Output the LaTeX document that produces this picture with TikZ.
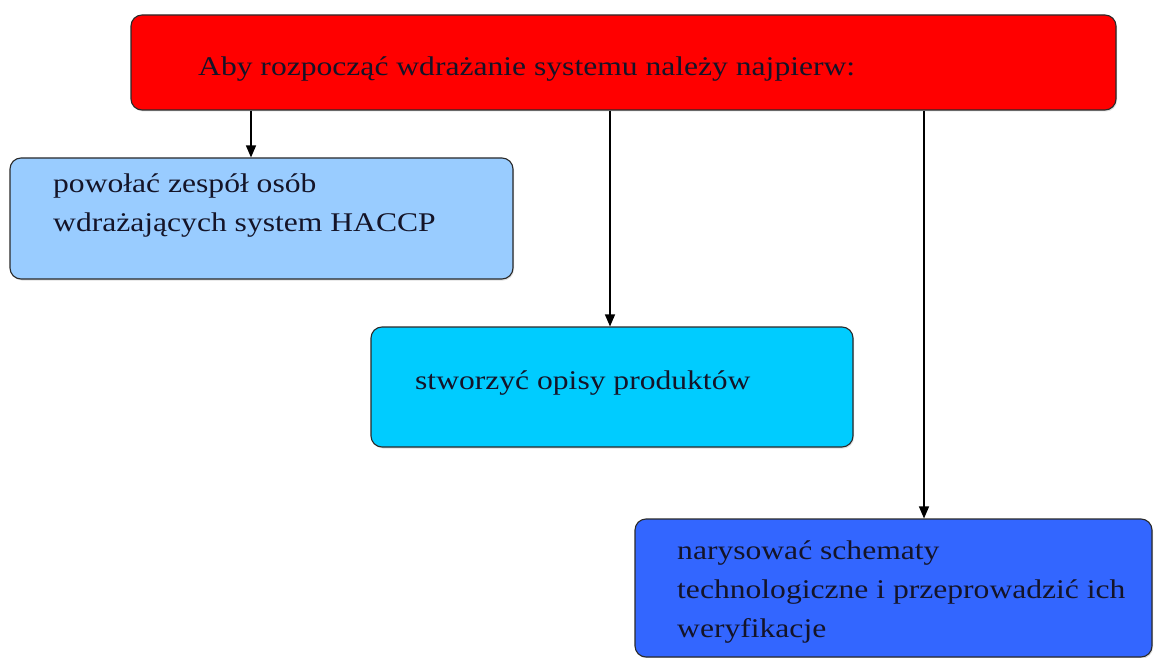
\documentclass[tikz,border=0pt]{standalone}
\usepackage{fontspec}
\setmainfont[FakeStretch=1.17]{Liberation Serif}
\usetikzlibrary{arrows.meta,shadows}
\definecolor{boxred}{HTML}{FF0000}
\definecolor{boxlight}{HTML}{99CCFF}
\definecolor{boxcyan}{HTML}{00CCFF}
\definecolor{boxblue}{HTML}{3366FF}
\definecolor{edge}{HTML}{2A2A2A}
\definecolor{ink}{HTML}{141428}
\tikzset{
  box/.style={draw=edge, line width=1.1pt, rounded corners=11pt, inner sep=0pt,
    drop shadow={shadow xshift=1pt, shadow yshift=-1.5pt, opacity=0.25}},
  lbl/.style={anchor=base west, inner sep=0pt, text=ink,
    font=\fontsize{27}{39}\selectfont},
  arr/.style={draw=black, line width=1.3pt, -{Triangle[length=12pt,width=10pt]}}
}
\newcommand{\lines}[1]{\begin{tabular}[t]{@{}l@{}}#1\end{tabular}}
\begin{document}
\begin{tikzpicture}[x=1pt,y=-1pt]
\useasboundingbox[fill=white] (0,0) rectangle (1154,658);
% boxes
\node[box, fill=boxred, minimum width=985pt, minimum height=95pt] (top) at (623.5,62.5) {};
\node[box, fill=boxlight, minimum width=503pt, minimum height=121pt] (b1) at (261.5,218.5) {};
\node[box, fill=boxcyan, minimum width=482pt, minimum height=120pt] (b2) at (612,387) {};
\node[box, fill=boxblue, minimum width=517pt, minimum height=138pt] (b3) at (893.5,588) {};
% texts
\node[lbl] (t0) at (198,76) {Aby rozpocząć wdrażanie systemu należy najpierw:};
\node[lbl] (t1) at (53,193) {\lines{powołać zespół osób\\wdrażających system HACCP}};
\node[lbl] (t2) at (415,389) {stworzyć opisy produktów};
\node[lbl] (t3) at (677,559) {\lines{narysować schematy\\technologiczne i przeprowadzić ich\\weryfikacje}};
% connectors
\coordinate (c1) at (251,0);
\coordinate (c2) at (610,0);
\coordinate (c3) at (924,0);
\draw[arr] (top.south -| c1) -- (b1.north -| c1);
\draw[arr] (top.south -| c2) -- (b2.north -| c2);
\draw[arr] (top.south -| c3) -- (b3.north -| c3);
\end{tikzpicture}
\end{document}
